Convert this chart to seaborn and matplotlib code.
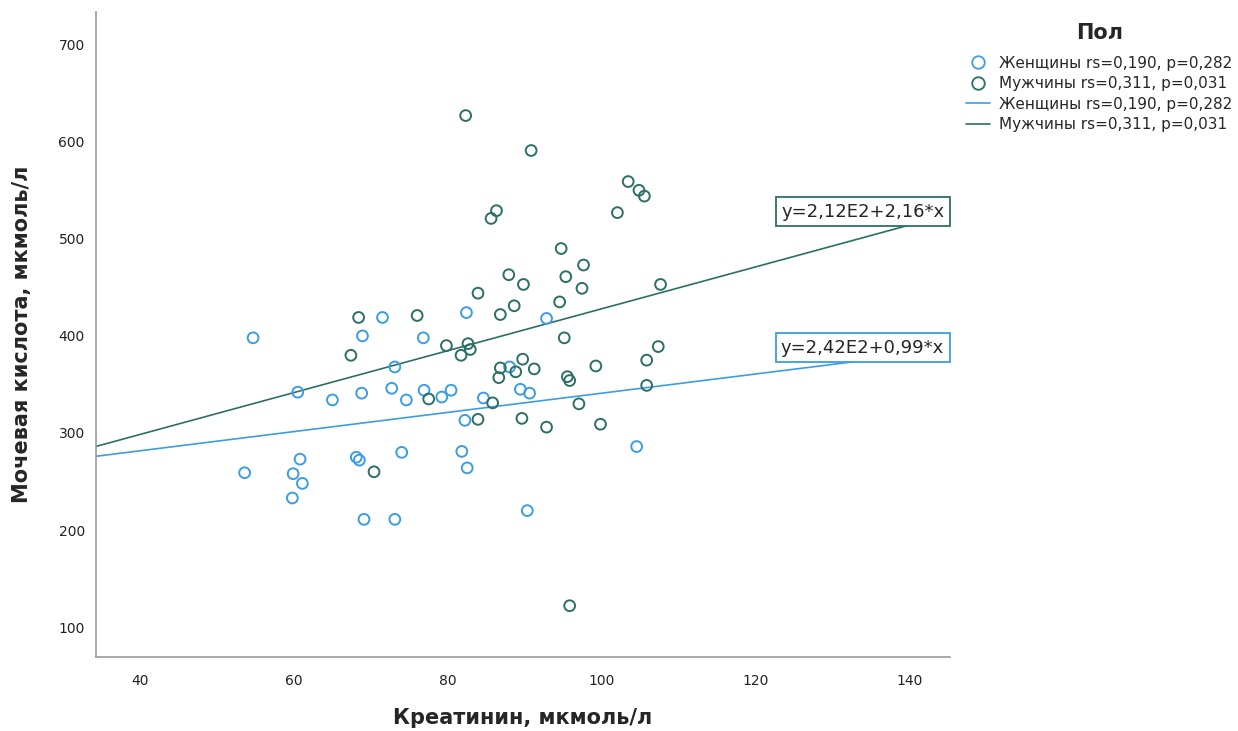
import numpy as np
import pandas as pd
import seaborn as sns
from matplotlib import pyplot as plt
from matplotlib.lines import Line2D

# Женщины
women_creat = [54.7, 71.5, 82.4, 68.9, 76.8, 73.1, 88.0, 60.5, 65.0, 68.8, 72.7, 74.6,
               76.9, 79.2, 80.4, 84.6, 89.4, 90.6, 82.2, 60.8, 53.6, 59.9, 61.1, 59.8,
               68.1, 68.5, 74.0, 81.8, 82.5, 69.1, 73.1, 90.3, 92.8, 104.5]
women_uric = [398, 419, 424, 400, 398, 368, 368, 342, 334, 341, 346, 334,
              344, 337, 344, 336, 345, 341, 313, 273, 259, 258, 248, 233,
              275, 272, 280, 281, 264, 211, 211, 220, 418, 286]

# Мужчины
men_creat = [82.3, 90.8, 86.3, 85.6, 87.9, 89.8, 83.9, 88.6, 86.8, 68.4, 76.0, 67.4,
             79.8, 82.6, 81.7, 82.9, 89.7, 86.8, 88.8, 91.2, 86.6, 103.4, 104.8, 105.5,
             102.0, 94.7, 97.6, 95.3, 97.4, 94.5, 107.6, 95.1, 107.3, 105.8, 99.2, 95.5,
             95.8, 105.8, 77.5, 85.8, 83.9, 89.6, 97.0, 92.8, 99.8, 70.4, 95.8]
men_uric = [627, 591, 529, 521, 463, 453, 444, 431, 422, 419, 421, 380,
            390, 392, 380, 386, 376, 367, 363, 366, 357, 559, 550, 544,
            527, 490, 473, 461, 449, 435, 453, 398, 389, 375, 369, 358,
            354, 349, 335, 331, 314, 315, 330, 306, 309, 260, 122]

groups = ['Женщины', 'Мужчины']
legend_labels = ['Женщины rs=0,190, p=0,282', 'Мужчины rs=0,311, p=0,031']
intercepts = [242, 212]
slopes = [0.99, 2.16]
eq_labels = ['y=2,42E2+0,99*x', 'y=2,12E2+2,16*x']
colors = ['#3D9DE2', '#2C6F66']

xlim = (34.3, 145.2)
ylim = (69, 734)

df = pd.DataFrame({
    'creat': women_creat + men_creat,
    'uric': women_uric + men_uric,
    'sex': ['Женщины'] * len(women_creat) + ['Мужчины'] * len(men_creat),
})

line_x = np.array(xlim)
lines = pd.concat([pd.DataFrame({'creat': line_x, 'uric': a + b * line_x, 'sex': g})
                   for g, a, b in zip(groups, intercepts, slopes)])

sns.set_style('white')
plt.rcParams['font.family'] = ['DejaVu Sans']

fig = plt.figure(figsize=(12.38, 7.31), dpi=100)
ax = fig.add_axes([0.0775, 0.101, 0.690, 0.883])

palette = dict(zip(groups, colors))
sns.lineplot(data=lines, x='creat', y='uric', hue='sex', palette=palette,
             lw=1.2, legend=False, ax=ax, zorder=2)
sns.scatterplot(data=df, x='creat', y='uric', hue='sex', palette=palette,
                s=60, linewidth=1.4, legend=False, ax=ax, zorder=3)

# hollow circles: move fill colour to the edge
pts = ax.collections[-1]
fc = pts.get_facecolors()
pts.set_edgecolors(fc)
pts.set_facecolors('none')

for g, lab, col, ypos in zip(groups, eq_labels, colors, [388, 528]):
    ax.annotate(lab, xy=(0.993, ypos), xycoords=('axes fraction', 'data'),
                ha='right', va='center', fontsize=13, zorder=5,
                bbox=dict(boxstyle='square,pad=0.3', fc='white', ec=col, lw=1.3))

ax.set_xlim(xlim)
ax.set_ylim(ylim)
ax.set_xticks([40, 60, 80, 100, 120, 140])
ax.set_yticks([100, 200, 300, 400, 500, 600, 700])
ax.tick_params(length=0, labelsize=10, colors='#222222')
ax.tick_params(axis='x', pad=12)
ax.tick_params(axis='y', pad=8)
for s in ['top', 'right']:
    ax.spines[s].set_visible(False)
for s in ['left', 'bottom']:
    ax.spines[s].set_color('#999999')
    ax.spines[s].set_linewidth(1.2)

lab_font = ['Liberation Sans Narrow', 'DejaVu Sans Condensed', 'DejaVu Sans']
ax.set_xlabel('Креатинин, мкмоль/л', fontsize=15, fontweight='bold', family=lab_font, va='center')
ax.set_ylabel('Мочевая кислота, мкмоль/л', fontsize=15, fontweight='bold', family=lab_font, va='center')
ax.xaxis.set_label_coords(0.5, -0.0946)
ax.yaxis.set_label_coords(-0.0867, 0.5)

fig.text(0.8885, 0.955, 'Пол', fontsize=15, fontweight='bold', ha='center', va='center')
handles = [Line2D([], [], marker='o', ls='none', mfc='none', mec=c, ms=9, mew=1.3) for c in colors]
handles += [Line2D([], [], color=c, lw=1.2) for c in colors]
fig.legend(handles, legend_labels + legend_labels,
           loc='upper left', bbox_to_anchor=(0.780, 0.924), frameon=False,
           borderpad=0, borderaxespad=0,
           fontsize=11, handlelength=1.6, handletextpad=0.6, labelspacing=0.36)

fig.savefig('out.png', dpi=100)
